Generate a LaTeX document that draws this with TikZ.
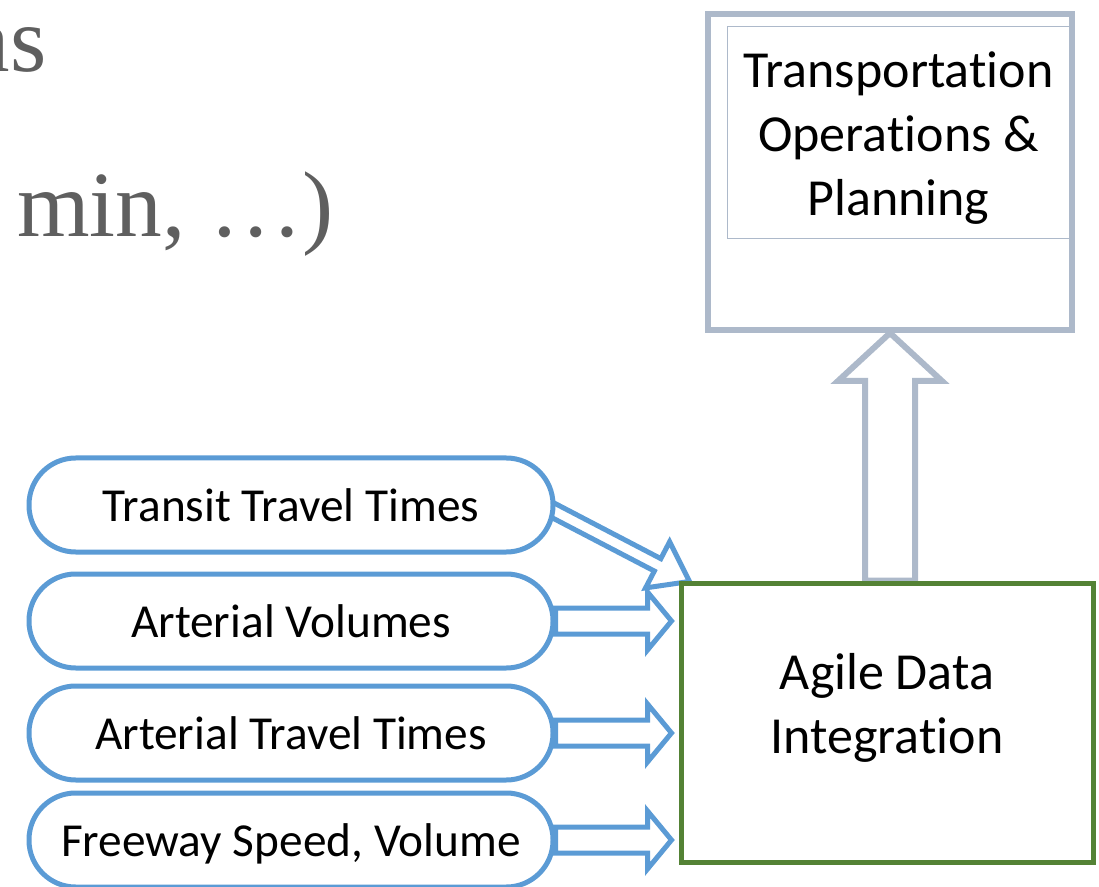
\documentclass[tikz,border=0pt]{standalone}
\usepackage{fontspec}
\setmainfont[Ligatures={NoCommon,NoRare,NoContextual}, Contextuals=NoAlternate]{Carlito}
\newfontfamily\slidefont{Liberation Serif}
\usetikzlibrary{positioning,calc}
\definecolor{feedblue}{HTML}{5B9BD5}
\definecolor{agilegreen}{HTML}{548235}
\definecolor{opsgray}{HTML}{ADB9CA}
\definecolor{slidegray}{HTML}{5F5F5F}
\pgfdeclarelayer{back}
\pgfsetlayers{back,main}

% block arrow: style, from, to, shaft half width, head half width, head length (pt)
\newcommand{\blockarrow}[6]{%
  \draw[#1] let \p1=($(#3)-(#2)$), \n1={atan2(\y1,\x1)}, \n2={veclen(\x1,\y1)} in
    [shift={(#2)}, rotate=\n1]
    (0pt,{-#4*1pt}) -- ({(\n2-#6)*1pt},{-#4*1pt}) -- ({(\n2-#6)*1pt},{-#5*1pt})
    -- ({\n2*1pt},0pt) -- ({(\n2-#6)*1pt},{#5*1pt}) -- ({(\n2-#6)*1pt},{#4*1pt})
    -- (0pt,{#4*1pt}) -- cycle;}

\begin{document}
\begin{tikzpicture}[x=0.75pt, y=-0.75pt,
        feedbox/.style={draw=feedblue, line width=3.75pt, fill=white, rounded corners=35pt, minimum width=393pt, minimum height=70.5pt, font=\fontsize{35.5}{42}\selectfont, text height=32pt, text depth=7pt},
        feedarrow/.style={draw=feedblue, line width=3.75pt, fill=white, line join=miter},
        agilebox/.style={draw=agilegreen, line width=3.75pt, minimum width=309pt, minimum height=209.25pt},
        opsbox/.style={draw=opsgray, line width=4.5pt, fill=white, minimum width=273pt, minimum height=237pt},
        opsarrow/.style={draw=opsgray, line width=4.5pt, fill=white, line join=miter},
        bigtext/.style={font=\fontsize{39}{48}\selectfont, align=center},
        slidetext/.style={font=\slidefont\fontsize{70}{84}\selectfont, text=slidegray, inner sep=0pt}
    ]
        \useasboundingbox (0,0) rectangle (1099,887);

        % Slide text behind the diagram
        \node[slidetext, anchor=base east] (slideA) at (47,72) {as};
        \node[slidetext, anchor=base west] (slideB) at (17,237) {min, …)};

        % Data feeds
        \node[feedbox] (src1) at (291,505) {Transit Travel Times};
        \node[feedbox] (src2) at (291,621) {Arterial Volumes};
        \node[feedbox] (src3) at (291,733) {Arterial Travel Times};
        \node[feedbox] (src4) at (291,840) {Freeway Speed, Volume};

        % Integration
        \node[agilebox] (agile) at (887,722.5) {};
        \node[bigtext] (agileText) at ($(agile.center)+(0,-15)$) {Agile Data\\Integrat\kern0pt ion};

        % Operations
        \node[opsbox] (ops) at (890,172) {};
        \node[draw=opsgray, line width=0.75pt, minimum width=257.25pt, minimum height=159pt] (opsInner) at (898.5,133) {};
        \node[bigtext] (opsText) at ($(opsInner.center)+(0,5)$) {Transportat\kern0pt ion\\Operat\kern0pt ions \&\\Planning};

        % Block arrows
        \begin{pgfonlayer}{back}
            \coordinate (startT) at ($(src1.east)+(-5,4)$);
            \coordinate (tipT) at ($(agile.north west)+(11,1)$);
            \blockarrow{feedarrow}{startT}{tipT}{5.25}{19.5}{27}
            \foreach \i in {2,3,4} {
                \coordinate (tip\i) at ($(src\i.east -| agile.west)+(-7,0)$);
                \blockarrow{feedarrow}{src\i.east}{tip\i}{9.75}{21.75}{18}
            }
            \blockarrow{opsarrow}{ops.south |- agile.north}{ops.south}{18.75}{39}{36}
        \end{pgfonlayer}
    \end{tikzpicture}
\end{document}
